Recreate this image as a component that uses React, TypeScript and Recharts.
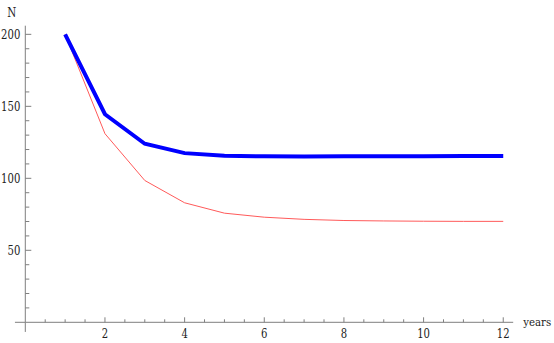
import { LineChart, Line, XAxis, YAxis, ReferenceLine } from 'recharts';

const years = [1, 2, 3, 4, 5, 6, 7, 8, 9, 10, 11, 12];
const thickSeries = [200, 144.5, 124, 117.5, 115.7, 115.3, 115.2, 115.3, 115.3, 115.4, 115.5, 115.5];
const thinSeries = [200, 131, 98.5, 83, 75.8, 73, 71.5, 70.7, 70.4, 70.2, 70.1, 70.1];

const xMajorTicks = [2, 4, 6, 8, 10, 12];
const xTicks = [0.5, 1, 1.5, 2, 2.5, 3, 3.5, 4, 4.5, 5, 5.5, 6, 6.5, 7, 7.5, 8, 8.5, 9, 9.5, 10, 10.5, 11, 11.5, 12];
const yMajorTicks = [50, 100, 150, 200];
const yTicks = [10, 20, 30, 40, 50, 60, 70, 80, 90, 100, 110, 120, 130, 140, 150, 160, 170, 180, 190, 200];

const data = years.map((year, i) => ({ year, thick: thickSeries[i], thin: thinSeries[i] }));

const AXIS = '#7f7f7f';
const textStyle = { fontFamily: "'DejaVu Serif', serif", fontSize: 12.5 };
// squeeze DejaVu glyphs to roughly Times widths
const DIGIT_W = 6.4;

const XTick = (props: any) => {
  const { x, y, payload } = props;
  const major = xMajorTicks.includes(payload.value);
  const s = String(payload.value);
  return (
    <g>
      <line x1={x} x2={x} y1={y} y2={y - (major ? 5 : 3)} stroke={AXIS} strokeWidth={1} />
      {major && (
        <text
          x={x - (s.length * DIGIT_W) / 2}
          y={y + 16}
          style={textStyle}
          fill="#222"
          textLength={s.length * DIGIT_W}
          lengthAdjust="spacingAndGlyphs"
        >
          {s}
        </text>
      )}
    </g>
  );
};

const YTick = (props: any) => {
  const { x, y, payload } = props;
  const major = yMajorTicks.includes(payload.value);
  const s = String(payload.value);
  return (
    <g>
      <line x1={x} x2={x + (major ? 6 : 4)} y1={y} y2={y} stroke={AXIS} strokeWidth={1} />
      {major && (
        <text
          x={x - 5 - s.length * DIGIT_W}
          y={y + 4.5}
          style={textStyle}
          fill="#222"
          textLength={s.length * DIGIT_W}
          lengthAdjust="spacingAndGlyphs"
        >
          {s}
        </text>
      )}
    </g>
  );
};

export default function App() {
  return (
    <div style={{ position: 'fixed', left: 0, top: 0, width: 554, height: 343, background: '#fff' }}>
      <LineChart
        width={554}
        height={343}
        data={data}
        margin={{ top: 25.7, right: 40.8, left: 0, bottom: 0 }}
      >
        <XAxis
          dataKey="year"
          type="number"
          domain={[0, 12.25]}
          ticks={xTicks}
          interval={0}
          height={20.7}
          stroke={AXIS}
          tickSize={0}
          tickMargin={0}
          tickLine={false}
          tick={<XTick />}
          allowDataOverflow
          label={{
            content: (p: any) => (
              <text
                x={p.viewBox.x + p.viewBox.width + 10}
                y={p.viewBox.y + 4}
                style={{ ...textStyle, fontSize: 11 }}
                fill="#222"
                textLength={28}
                lengthAdjust="spacingAndGlyphs"
              >
                years
              </text>
            ),
          }}
        />
        <YAxis
          type="number"
          domain={[0, 206]}
          ticks={yTicks}
          interval={0}
          width={25.3}
          stroke={AXIS}
          tickSize={0}
          tickMargin={0}
          tickLine={false}
          tick={<YTick />}
          allowDataOverflow
          label={{
            content: (p: any) => (
              <text
                x={p.viewBox.x + p.viewBox.width - 18}
                y={p.viewBox.y - 9}
                style={textStyle}
                fill="#222"
                textLength={9}
                lengthAdjust="spacingAndGlyphs"
              >
                N
              </text>
            ),
          }}
        />
        {/* axis overhang past the origin */}
        <ReferenceLine
          segment={[{ x: -0.26, y: 0 }, { x: 0, y: 0 }]}
          stroke={AXIS}
          ifOverflow="visible"
        />
        <ReferenceLine
          segment={[{ x: 0, y: -6.7 }, { x: 0, y: 0 }]}
          stroke={AXIS}
          ifOverflow="visible"
        />
        <Line
          type="linear"
          dataKey="thin"
          stroke="#ff5a5a"
          strokeWidth={1}
          dot={false}
          isAnimationActive={false}
        />
        <Line
          type="linear"
          dataKey="thick"
          stroke="#0000ff"
          strokeWidth={4}
          dot={false}
          isAnimationActive={false}
        />
      </LineChart>
    </div>
  );
}
